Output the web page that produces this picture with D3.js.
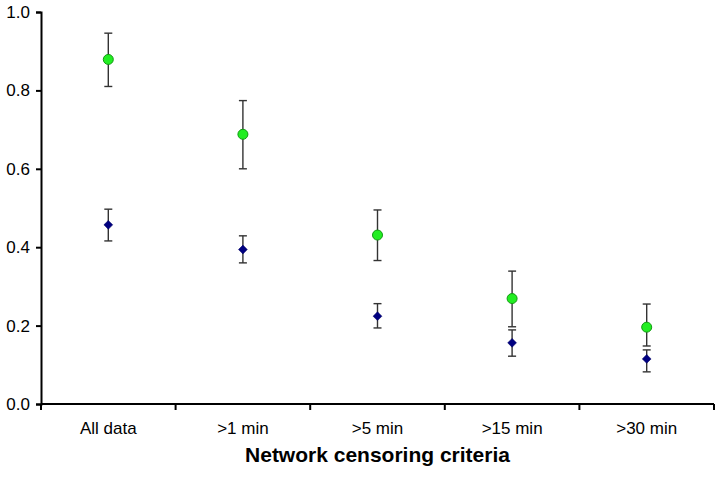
<!DOCTYPE html>
<html>
<head>
<meta charset="utf-8">
<script src="https://d3js.org/d3.v7.min.js"></script>
<style>
  body { margin: 0; background: #fff; }
  .axis text { font-family: "Liberation Sans", Arial, sans-serif; font-size: 17px; fill: #000; }
  .axis path, .axis line { stroke: #000; stroke-width: 2; }
</style>
</head>
<body>
<script>
// categories and series values
var categories = ["All data", ">1 min", ">5 min", ">15 min", ">30 min"];
var greenMean = [0.879, 0.688, 0.431, 0.269, 0.196];
var greenLow  = [0.810, 0.600, 0.366, 0.197, 0.148];
var greenHigh = [0.946, 0.774, 0.495, 0.339, 0.255];
var blueMean  = [0.457, 0.394, 0.224, 0.156, 0.115];
var blueLow   = [0.416, 0.360, 0.194, 0.122, 0.082];
var blueHigh  = [0.497, 0.429, 0.256, 0.189, 0.138];
var yTicks = [0, 0.2, 0.4, 0.6, 0.8, 1.0];

var W = 722, H = 478;
var margin = {left: 41, right: 8, top: 12, bottom: 74};
var width = W - margin.left - margin.right,
    height = H - margin.top - margin.bottom;

var svg = d3.select("body").append("svg")
    .attr("width", W)
    .attr("height", H);

var g = svg.append("g")
    .attr("transform", "translate(" + margin.left + "," + margin.top + ")");

var x = d3.scaleBand().domain(categories).range([0, width]);
var y = d3.scaleLinear().domain([0, 1]).range([height, 0]);

// y axis
var yAxisG = g.append("g").attr("class", "axis")
    .call(d3.axisLeft(y).tickValues(yTicks).tickFormat(d3.format(".1f")).tickSize(5).tickPadding(6));

// x axis: ticks between categories
var xAxisG = g.append("g").attr("class", "axis")
    .attr("transform", "translate(0," + height + ")")
    .call(d3.axisBottom(x).tickSize(0).tickPadding(18));
xAxisG.select(".domain").attr("d", "M0,0H" + width);
xAxisG.selectAll(".sep")
    .data(d3.range(categories.length + 1))
    .enter().append("line")
    .attr("x1", function (i) { return i * x.step(); })
    .attr("x2", function (i) { return i * x.step(); })
    .attr("y1", 0).attr("y2", 6);

g.append("text")
    .attr("x", width / 2)
    .attr("y", height + 58)
    .attr("text-anchor", "middle")
    .style("font-family", "'Liberation Sans', Arial, sans-serif")
    .style("font-weight", "bold")
    .style("font-size", "21px")
    .text("Network censoring criteria");

function cx(i) { return x(categories[i]) + x.bandwidth() / 2; }

function errorBars(low, high) {
  var eb = g.append("g").attr("stroke", "#333").attr("stroke-width", 1.4);
  categories.forEach(function (c, i) {
    eb.append("line").attr("x1", cx(i)).attr("x2", cx(i)).attr("y1", y(low[i])).attr("y2", y(high[i]));
    [low[i], high[i]].forEach(function (v) {
      eb.append("line").attr("x1", cx(i) - 4).attr("x2", cx(i) + 4).attr("y1", y(v)).attr("y2", y(v));
    });
  });
}

errorBars(blueLow, blueHigh);
errorBars(greenLow, greenHigh);

g.selectAll(".blue")
    .data(blueMean)
    .enter().append("path")
    .attr("d", d3.symbol().type(d3.symbolDiamond2).size(50))
    .attr("transform", function (d, i) { return "translate(" + cx(i) + "," + y(d) + ")"; })
    .attr("fill", "#000080")
    .attr("stroke", "#000060")
    .attr("stroke-width", 0.5);

g.selectAll(".green")
    .data(greenMean)
    .enter().append("circle")
    .attr("cx", function (d, i) { return cx(i); })
    .attr("cy", function (d) { return y(d); })
    .attr("r", 5)
    .attr("fill", "#22ee22")
    .attr("stroke", "#119911")
    .attr("stroke-width", 1);
</script>
</body>
</html>
